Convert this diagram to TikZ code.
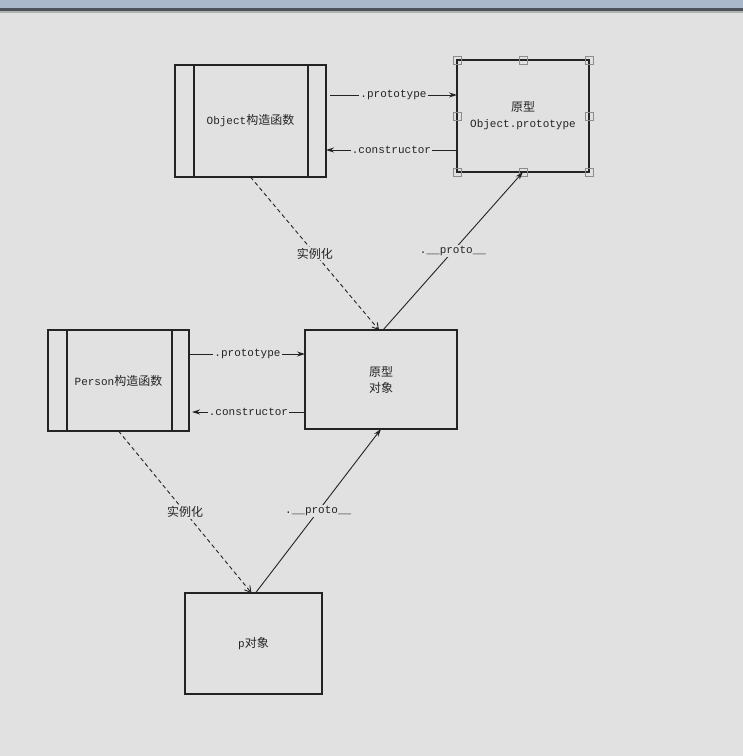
\documentclass[tikz,border=0pt]{standalone}
\usepackage{fontspec}
\setmainfont{Liberation Mono}
\newfontfamily\cjk{Noto Sans CJK SC}
\usetikzlibrary{arrows.meta}
\newcommand{\zh}[1]{{\cjk\fontsize{12}{14}\selectfont #1}}
\definecolor{bgcol}{RGB}{225,225,225}
\definecolor{inkcol}{RGB}{35,35,35}
\definecolor{barcol}{RGB}{170,184,204}
\definecolor{barline}{RGB}{75,82,90}
\definecolor{handlecol}{RGB}{140,140,140}
\tikzset{box/.style={draw=inkcol,line width=1.1pt,inner sep=0pt,outer sep=0pt,text=inkcol,font=\fontsize{11}{16}\selectfont,align=center}}
\tikzset{bar/.style={draw=inkcol,line width=1.1pt}}
\tikzset{handle/.style={draw=handlecol,line width=0.7pt,minimum size=8pt,inner sep=0pt}}
\tikzset{edge/.style={draw=inkcol,line width=0.9pt,-{Stealth[length=8pt,width=5pt]}}}
\tikzset{inst/.style={draw=inkcol,line width=0.9pt,dash pattern=on 4pt off 3pt,-{Straight Barb[length=6pt,width=7pt]}}}
\tikzset{lbl/.style={fill=bgcol,inner sep=1pt,text=inkcol,font=\fontsize{11}{13}\selectfont}}

\begin{document}
\begin{tikzpicture}[x=1pt,y=-1pt]
\useasboundingbox[fill=bgcol] (0,0) rectangle (743,756);
\fill[barcol] (0,0) rectangle (743,8);
\fill[barline] (0,8) rectangle (743,11);
\fill[gray!60] (0,11) rectangle (743,12.5);

% constructors
\node [box,minimum width=151pt,minimum height=112pt] (oc) at (250.5,121) {Object\zh{构造函数}};
\draw [bar] ([xshift=19pt]oc.north west) -- ([xshift=19pt]oc.south west);
\draw [bar] ([xshift=-18pt]oc.north east) -- ([xshift=-18pt]oc.south east);
\node [box,minimum width=141pt,minimum height=101pt] (pc) at (118.5,380.5) {Person\zh{构造函数}};
\draw [bar] ([xshift=19pt]pc.north west) -- ([xshift=19pt]pc.south west);
\draw [bar] ([xshift=-17pt]pc.north east) -- ([xshift=-17pt]pc.south east);

% prototypes and instance
\node [box,minimum width=132pt,minimum height=112pt] (op) at (523,116) {\zh{原型}\\Object.prototype};
\node [box,minimum width=152pt,minimum height=99pt] (po) at (381,379.5) {\zh{原型}\\\zh{对象}};
\node [box,minimum width=137pt,minimum height=101pt] (p) at (253.5,643.5) {p\zh{对象}};

% selection handles
\node [handle] (h1) at (op.north west) {};
\node [handle] (h2) at (op.north) {};
\node [handle] (h3) at (op.north east) {};
\node [handle] (h4) at (op.west) {};
\node [handle] (h5) at (op.east) {};
\node [handle] (h6) at (op.south west) {};
\node [handle] (h7) at (op.south) {};
\node [handle] (h8) at (op.south east) {};

% links
\draw [edge] ([xshift=4pt,yshift=26pt]oc.east) -- ([yshift=21pt]op.west) node [lbl,midway] {.prototype};
\draw [edge] ([yshift=-34pt]op.west) -- ([yshift=-29pt]oc.east) node [lbl,midway] {.constructor};
\draw [edge] ([xshift=1pt,yshift=26.5pt]pc.east) -- ([yshift=25.5pt]po.west) node [lbl,midway] {.prototype};
\draw [edge] ([yshift=-32.5pt]po.west) -- ([xshift=3pt,yshift=-31.5pt]pc.east) node [lbl,midway] {.constructor};

\draw [inst] (oc.south) -- ([xshift=-2pt]po.north) node [lbl,midway] {\zh{实例化}};
\draw [edge] ([xshift=2pt]po.north) -- (op.south) node [lbl,midway] {.\_\_proto\_\_};
\draw [inst] (pc.south) -- ([xshift=-2pt]p.north) node [lbl,midway] {\zh{实例化}};
\draw [edge] ([xshift=2pt]p.north) -- (po.south) node [lbl,midway] {.\_\_proto\_\_};
\end{tikzpicture}
\end{document}
